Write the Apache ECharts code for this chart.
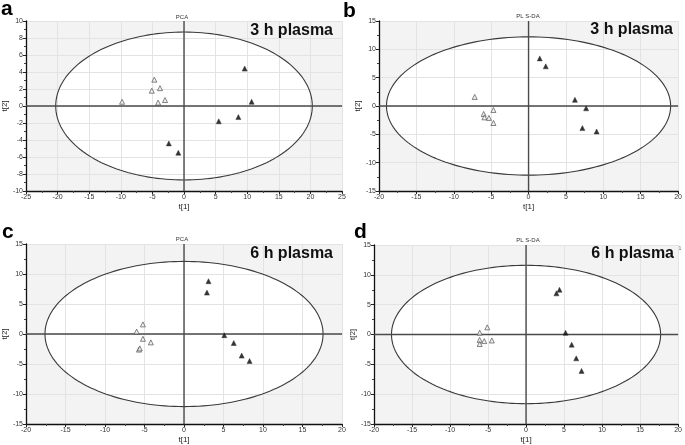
<!DOCTYPE html>
<html><head><meta charset="utf-8">
<script src="https://cdn.jsdelivr.net/npm/echarts@6/dist/echarts.min.js"></script>
<style>html,body{margin:0;padding:0;background:#fff}#c{width:685px;height:445px}</style>
</head><body><div id="c"></div>
<script>
// ---- data ----
const aOpenX = [-9.8, -4.7, -5.1, -3.8, -4.1, -3.0];
const aOpenY = [0.5, 3.1, 1.8, 2.1, 0.4, 0.7];
const aFillX = [9.6, 10.7, 8.6, 5.5, -2.4, -0.9];
const aFillY = [4.4, 0.5, -1.3, -1.8, -4.4, -5.5];

const bOpenX = [-7.2, -6.0, -5.9, -5.3, -4.7, -4.7];
const bOpenY = [1.6, -1.4, -2.0, -2.1, -0.7, -3.0];
const bFillX = [1.5, 2.3, 6.2, 7.7, 7.2, 9.1];
const bFillY = [8.4, 7.0, 1.1, -0.4, -3.9, -4.5];

const cOpenX = [-6.0, -5.2, -5.2, -4.2, -5.7, -5.6];
const cOpenY = [0.4, 1.6, -0.8, -1.4, -2.6, -2.4];
const cFillX = [3.1, 2.9, 5.1, 6.3, 7.3, 8.3];
const cFillY = [8.8, 6.9, -0.2, -1.5, -3.6, -4.5];

const dOpenX = [-6.1, -5.1, -6.1, -6.1, -5.5, -4.5];
const dOpenY = [0.3, 1.2, -0.9, -1.6, -1.1, -1.0];
const dFillX = [4.4, 4.0, 5.2, 6.0, 6.6, 7.3];
const dFillY = [7.5, 6.9, 0.3, -1.7, -4.0, -6.1];

// Hotelling ellipse semi-axes [t1, t2]
const aEllipse = [20.3, 8.7];
const bEllipse = [19.0, 12.2];
const cEllipse = [17.6, 12.1];
const dEllipse = [17.7, 11.6];

// axis ranges [min, max, interval]
const aXRange = [-25, 25, 5], aYRange = [-10, 10, 2];
const bXRange = [-20, 20, 5], bYRange = [-15, 15, 5];
const cXRange = [-20, 20, 5], cYRange = [-15, 15, 5];
const dXRange = [-20, 20, 5], dYRange = [-15, 15, 5];

const panelLetters = ['a', 'b', 'c', 'd'];
const panelTitles = ['PCA', 'PL S-DA', 'PCA', 'PL S-DA'];
const panelLabels = ['3 h plasma', '3 h plasma', '6 h plasma', '6 h plasma'];
const xName = 't[1]', yName = 't[2]';

// ---- layout ----
const grids = [
  {left: 21, top: 21, width: 321, height: 170},
  {left: 379, top: 21, width: 301, height: 170},
  {left: 22, top: 244, width: 320, height: 182},
  {left: 374, top: 245, width: 306, height: 181}
];
const panels = [
  {ox: aOpenX, oy: aOpenY, fx: aFillX, fy: aFillY, e: aEllipse, xr: aXRange, yr: aYRange},
  {ox: bOpenX, oy: bOpenY, fx: bFillX, fy: bFillY, e: bEllipse, xr: bXRange, yr: bYRange},
  {ox: cOpenX, oy: cOpenY, fx: cFillX, fy: cFillY, e: cEllipse, xr: cXRange, yr: cYRange},
  {ox: dOpenX, oy: dOpenY, fx: dFillX, fy: dFillY, e: dEllipse, xr: dXRange, yr: dYRange}
];
const zip = (xs, ys) => xs.map((x, i) => [x, ys[i]]);
const FONT = 'Liberation Sans, Arial, sans-serif';

function ellipsePts(api, e, n) {
  const pts = [];
  for (let i = 0; i < n; i++) {
    const t = 2 * Math.PI * i / n;
    pts.push(api.coord([e[0] * Math.cos(t), e[1] * Math.sin(t)]));
  }
  return pts;
}

const xAxes = [], yAxes = [], series = [];
panels.forEach((p, i) => {
  const axCommon = {
    gridIndex: i, z: 2,
    axisLine: {onZero: false, lineStyle: {color: '#111', width: 1.3}},
    axisTick: {show: true, length: 3, lineStyle: {color: '#222'}},
    minorTick: {show: true, splitNumber: 2, length: 2, lineStyle: {color: '#444'}},
    splitLine: {show: true, lineStyle: {color: '#e3e3e3', width: 1}},
    axisLabel: {fontSize: 7, color: '#333', fontFamily: FONT, margin: 3},
    nameTextStyle: {fontSize: 8, color: '#222', fontFamily: FONT}
  };
  xAxes.push(Object.assign({}, axCommon, {
    type: 'value', min: p.xr[0], max: p.xr[1], interval: p.xr[2],
    name: xName, nameLocation: 'middle', nameGap: 12
  }));
  yAxes.push(Object.assign({}, axCommon, {
    type: 'value', min: p.yr[0], max: p.yr[1], interval: p.yr[2],
    name: yName, nameLocation: 'middle', nameGap: 13
  }));
  // ellipse fill (under grid lines)
  series.push({
    type: 'custom', xAxisIndex: i, yAxisIndex: i, z: 1, silent: true,
    data: [[0, 0]],
    renderItem: (params, api) => ({
      type: 'polygon', shape: {points: ellipsePts(api, p.e, 180)},
      style: {fill: '#ffffff', stroke: null}
    })
  });
  // ellipse outline + zero lines
  series.push({
    type: 'custom', xAxisIndex: i, yAxisIndex: i, z: 3, silent: true,
    data: [[0, 0]],
    renderItem: (params, api) => {
      const x0 = api.coord([p.xr[0], 0]), x1 = api.coord([p.xr[1], 0]);
      const y0 = api.coord([0, p.yr[0]]), y1 = api.coord([0, p.yr[1]]);
      return {type: 'group', children: [
        {type: 'polygon', shape: {points: ellipsePts(api, p.e, 180)},
         style: {fill: null, stroke: '#3a3a3a', lineWidth: 1.1}},
        {type: 'line', shape: {x1: x0[0], y1: x0[1], x2: x1[0], y2: x1[1]},
         style: {stroke: '#4a4a4a', lineWidth: 1.4}},
        {type: 'line', shape: {x1: y0[0], y1: y0[1], x2: y1[0], y2: y1[1]},
         style: {stroke: '#4a4a4a', lineWidth: 1.4}}
      ]};
    }
  });
  series.push({
    type: 'scatter', xAxisIndex: i, yAxisIndex: i, z: 5,
    symbol: 'triangle', symbolSize: [5, 5],
    itemStyle: {color: '#eeeeee', borderColor: '#555', borderWidth: 0.9},
    data: zip(p.ox, p.oy)
  });
  series.push({
    type: 'scatter', xAxisIndex: i, yAxisIndex: i, z: 5,
    symbol: 'triangle', symbolSize: [5, 5],
    itemStyle: {color: '#000', borderColor: '#333', borderWidth: 0.6},
    data: zip(p.fx, p.fy)
  });
});

const graphics = [];
const letterPos = [[1, 15], [343, 17], [2, 238], [354, 238]];
const titlePos = [[182, 17], [528, 16], [182, 239], [528, 240]];
const labelPos = [[333, 39], [673, 38], [333, 262], [674, 262]];
panelLetters.forEach((t, i) => {
  graphics.push({type: 'text', left: letterPos[i][0], top: letterPos[i][1] - 16,
    style: {text: t, font: 'bold 21px ' + FONT, fill: '#000'}});
  graphics.push({type: 'text', x: titlePos[i][0], y: titlePos[i][1],
    style: {text: panelTitles[i], font: '6px ' + FONT, fill: '#333', textAlign: 'center', textVerticalAlign: 'middle'}});
  graphics.push({type: 'text', x: labelPos[i][0], y: labelPos[i][1], z: 10,
    style: {text: panelLabels[i], font: 'bold 16px ' + FONT, fill: '#111', textAlign: 'right', textVerticalAlign: 'bottom'}});
});
graphics.push({type: 'text', x: 680, y: 248, style: {text: '1', font: '6px ' + FONT, fill: '#777', textAlign: 'center', textVerticalAlign: 'middle'}});

const chart = echarts.init(document.getElementById('c'), null, {renderer: 'canvas'});
chart.setOption({
  animation: false,
  backgroundColor: '#ffffff',
  grid: grids.map(g => Object.assign({show: true, backgroundColor: '#f3f3f3', borderWidth: 0}, g)),
  xAxis: xAxes, yAxis: yAxes, series: series, graphic: graphics
});
</script></body></html>
